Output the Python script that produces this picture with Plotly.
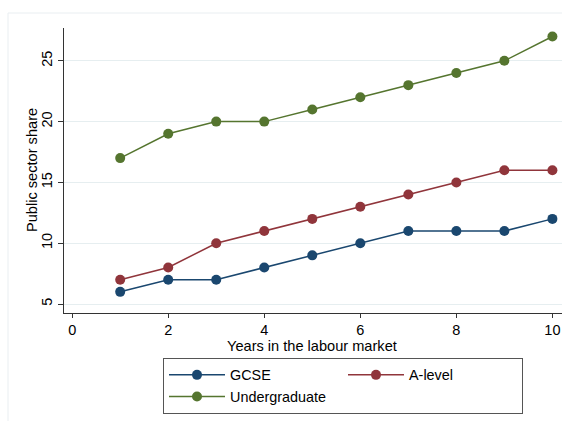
import plotly.graph_objects as go

years = [1, 2, 3, 4, 5, 6, 7, 8, 9, 10]
gcse = [6, 7, 7, 8, 9, 10, 11, 11, 11, 12]
alevel = [7, 8, 10, 11, 12, 13, 14, 15, 16, 16]
undergrad = [17, 19, 20, 20, 21, 22, 23, 24, 25, 27]
x_ticks = [0, 2, 4, 6, 8, 10]
y_ticks = [5, 10, 15, 20, 25]

FONT = "Liberation Sans, Arial, sans-serif"
W, H = 562, 421
L, R, T, B = 64, 0, 28, 108

fig = go.Figure()
series = [("GCSE", gcse, "#1a476f"), ("A-level", alevel, "#90353b"),
          ("Undergraduate", undergrad, "#55752f")]
for name, vals, col in series:
    fig.add_trace(go.Scatter(x=years, y=vals, name=name, mode="lines+markers",
                             line=dict(color=col, width=1.5),
                             marker=dict(color=col, size=10)))

pw = W - L - R
ph = H - T - B
fig.add_shape(type="rect", xref="paper", yref="paper",
              x0=(8 - L) / pw, x1=(W + 5 - L) / pw,
              y0=(H - B - (H + 5)) / ph, y1=1 + (T - 13) / ph,
              line=dict(color="#e9eef1", width=1), layer="below")

fig.add_annotation(text="Years in the labour market", xref="paper", yref="paper",
                   x=(312 - L) / pw, y=-(346 - (H - B)) / ph,
                   xanchor="center", yanchor="middle", showarrow=False,
                   font=dict(size=14.6))
fig.add_annotation(text="Public sector share", xref="paper", yref="paper",
                   x=(32 - L) / pw, y=(H - B - 170) / ph, textangle=-90,
                   xanchor="center", yanchor="middle", showarrow=False,
                   font=dict(size=14.6))

fig.update_layout(
    width=W, height=H,
    margin=dict(l=L, r=R, t=T, b=B),
    paper_bgcolor="white", plot_bgcolor="white",
    font=dict(family=FONT, size=14.5, color="#000"),
    showlegend=True,
    legend=dict(orientation="h", x=(163 - L) / pw, y=-(358 - (H - B)) / ph,
                xanchor="left", yanchor="top", entrywidth=108, itemwidth=56,
                bordercolor="#555", borderwidth=1, bgcolor="white",
                font=dict(size=14.4), tracegroupgap=0),
    xaxis=dict(range=[-0.17, 10.2], tickvals=x_ticks, showgrid=False,
               zeroline=False, showline=True, linecolor="#333", linewidth=1,
               ticks="outside", ticklen=4, tickcolor="#333",
               tickfont=dict(size=14.5)),
    yaxis=dict(range=[4.26, 27.7], tickvals=y_ticks, showgrid=True,
               gridcolor="#e6eef0", gridwidth=1, zeroline=False,
               showline=True, linecolor="#333", linewidth=1,
               ticks="outside", ticklen=5, tickcolor="#333",
               tickangle=-90, tickfont=dict(size=14.5)),
)

fig.write_html("out.html")
